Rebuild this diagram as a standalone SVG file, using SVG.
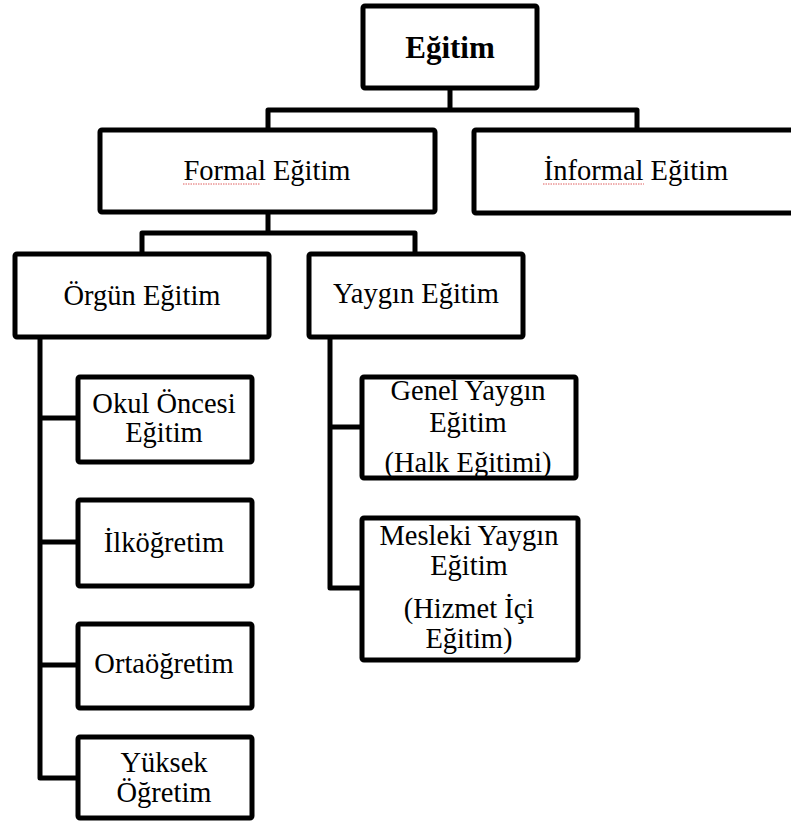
<svg xmlns="http://www.w3.org/2000/svg" width="791" height="821" viewBox="0 0 791 821">
<style>
.box{fill:#fff;stroke:#000;stroke-width:5;stroke-linejoin:round}
.con{fill:none;stroke:#000;stroke-width:5;stroke-linejoin:round;stroke-linecap:square}
text{font-family:"Liberation Serif","Times New Roman",serif;font-size:28.5px;fill:#000;text-anchor:middle}
.b{font-weight:bold;font-size:31px}
.sq{fill:none;stroke:#e06060;stroke-width:1;stroke-dasharray:1.5 1}
</style>
<rect width="791" height="821" fill="#fff"/>
<g id="connectors">
<path class="con" d="M450 88V110M268 130V110H637V130"/>
<path class="con" d="M268 212V233M142 252V233H415V252"/>
<path class="con" d="M40 337V778H77M40 418H77M40 542H77M40 665H77"/>
<path class="con" d="M330 338V588H361M330 427H361"/>
</g>
<g id="egitim"><rect class="box" x="363" y="6" width="174" height="82" rx="2"/><text class="b" x="450" y="58">Eğitim</text></g>
<g id="formal"><rect class="box" x="100" y="130" width="335" height="82" rx="2"/><text x="267" y="180">Formal Eğitim</text><path class="sq" d="M183 184H260"/></g>
<g id="informal"><rect class="box" x="474" y="130" width="340" height="83" rx="2"/><text x="636" y="180">İnformal Eğitim</text><path class="sq" d="M543 184H644"/></g>
<g id="orgun"><rect class="box" x="15" y="254" width="254" height="83" rx="2"/><text x="142" y="305">Örgün Eğitim</text></g>
<g id="yaygin"><rect class="box" x="309" y="254" width="214" height="83" rx="2"/><text x="416" y="303">Yaygın Eğitim</text></g>
<g id="okul"><rect class="box" x="78" y="377" width="174" height="85" rx="2"/><text x="164" y="413">Okul Öncesi</text><text x="164" y="442">Eğitim</text></g>
<g id="ilkogretim"><rect class="box" x="78" y="500" width="174" height="86" rx="2"/><text x="164" y="552">İlköğretim</text></g>
<g id="ortaogretim"><rect class="box" x="78" y="624" width="174" height="84" rx="2"/><text x="164" y="673">Ortaöğretim</text></g>
<g id="yuksek"><rect class="box" x="78" y="737" width="174" height="81" rx="2"/><text x="164" y="772">Yüksek</text><text x="164" y="802">Öğretim</text></g>
<g id="genel"><rect class="box" x="362" y="377" width="214" height="101" rx="2"/><text x="468" y="400">Genel Yaygın</text><text x="468" y="432">Eğitim</text><text x="468" y="472">(Halk Eğitimi)</text></g>
<g id="mesleki"><rect class="box" x="362" y="518" width="216" height="142" rx="2"/><text x="469" y="545">Mesleki Yaygın</text><text x="469" y="575">Eğitim</text><text x="469" y="618">(Hizmet İçi</text><text x="469" y="648">Eğitim)</text></g>
</svg>
